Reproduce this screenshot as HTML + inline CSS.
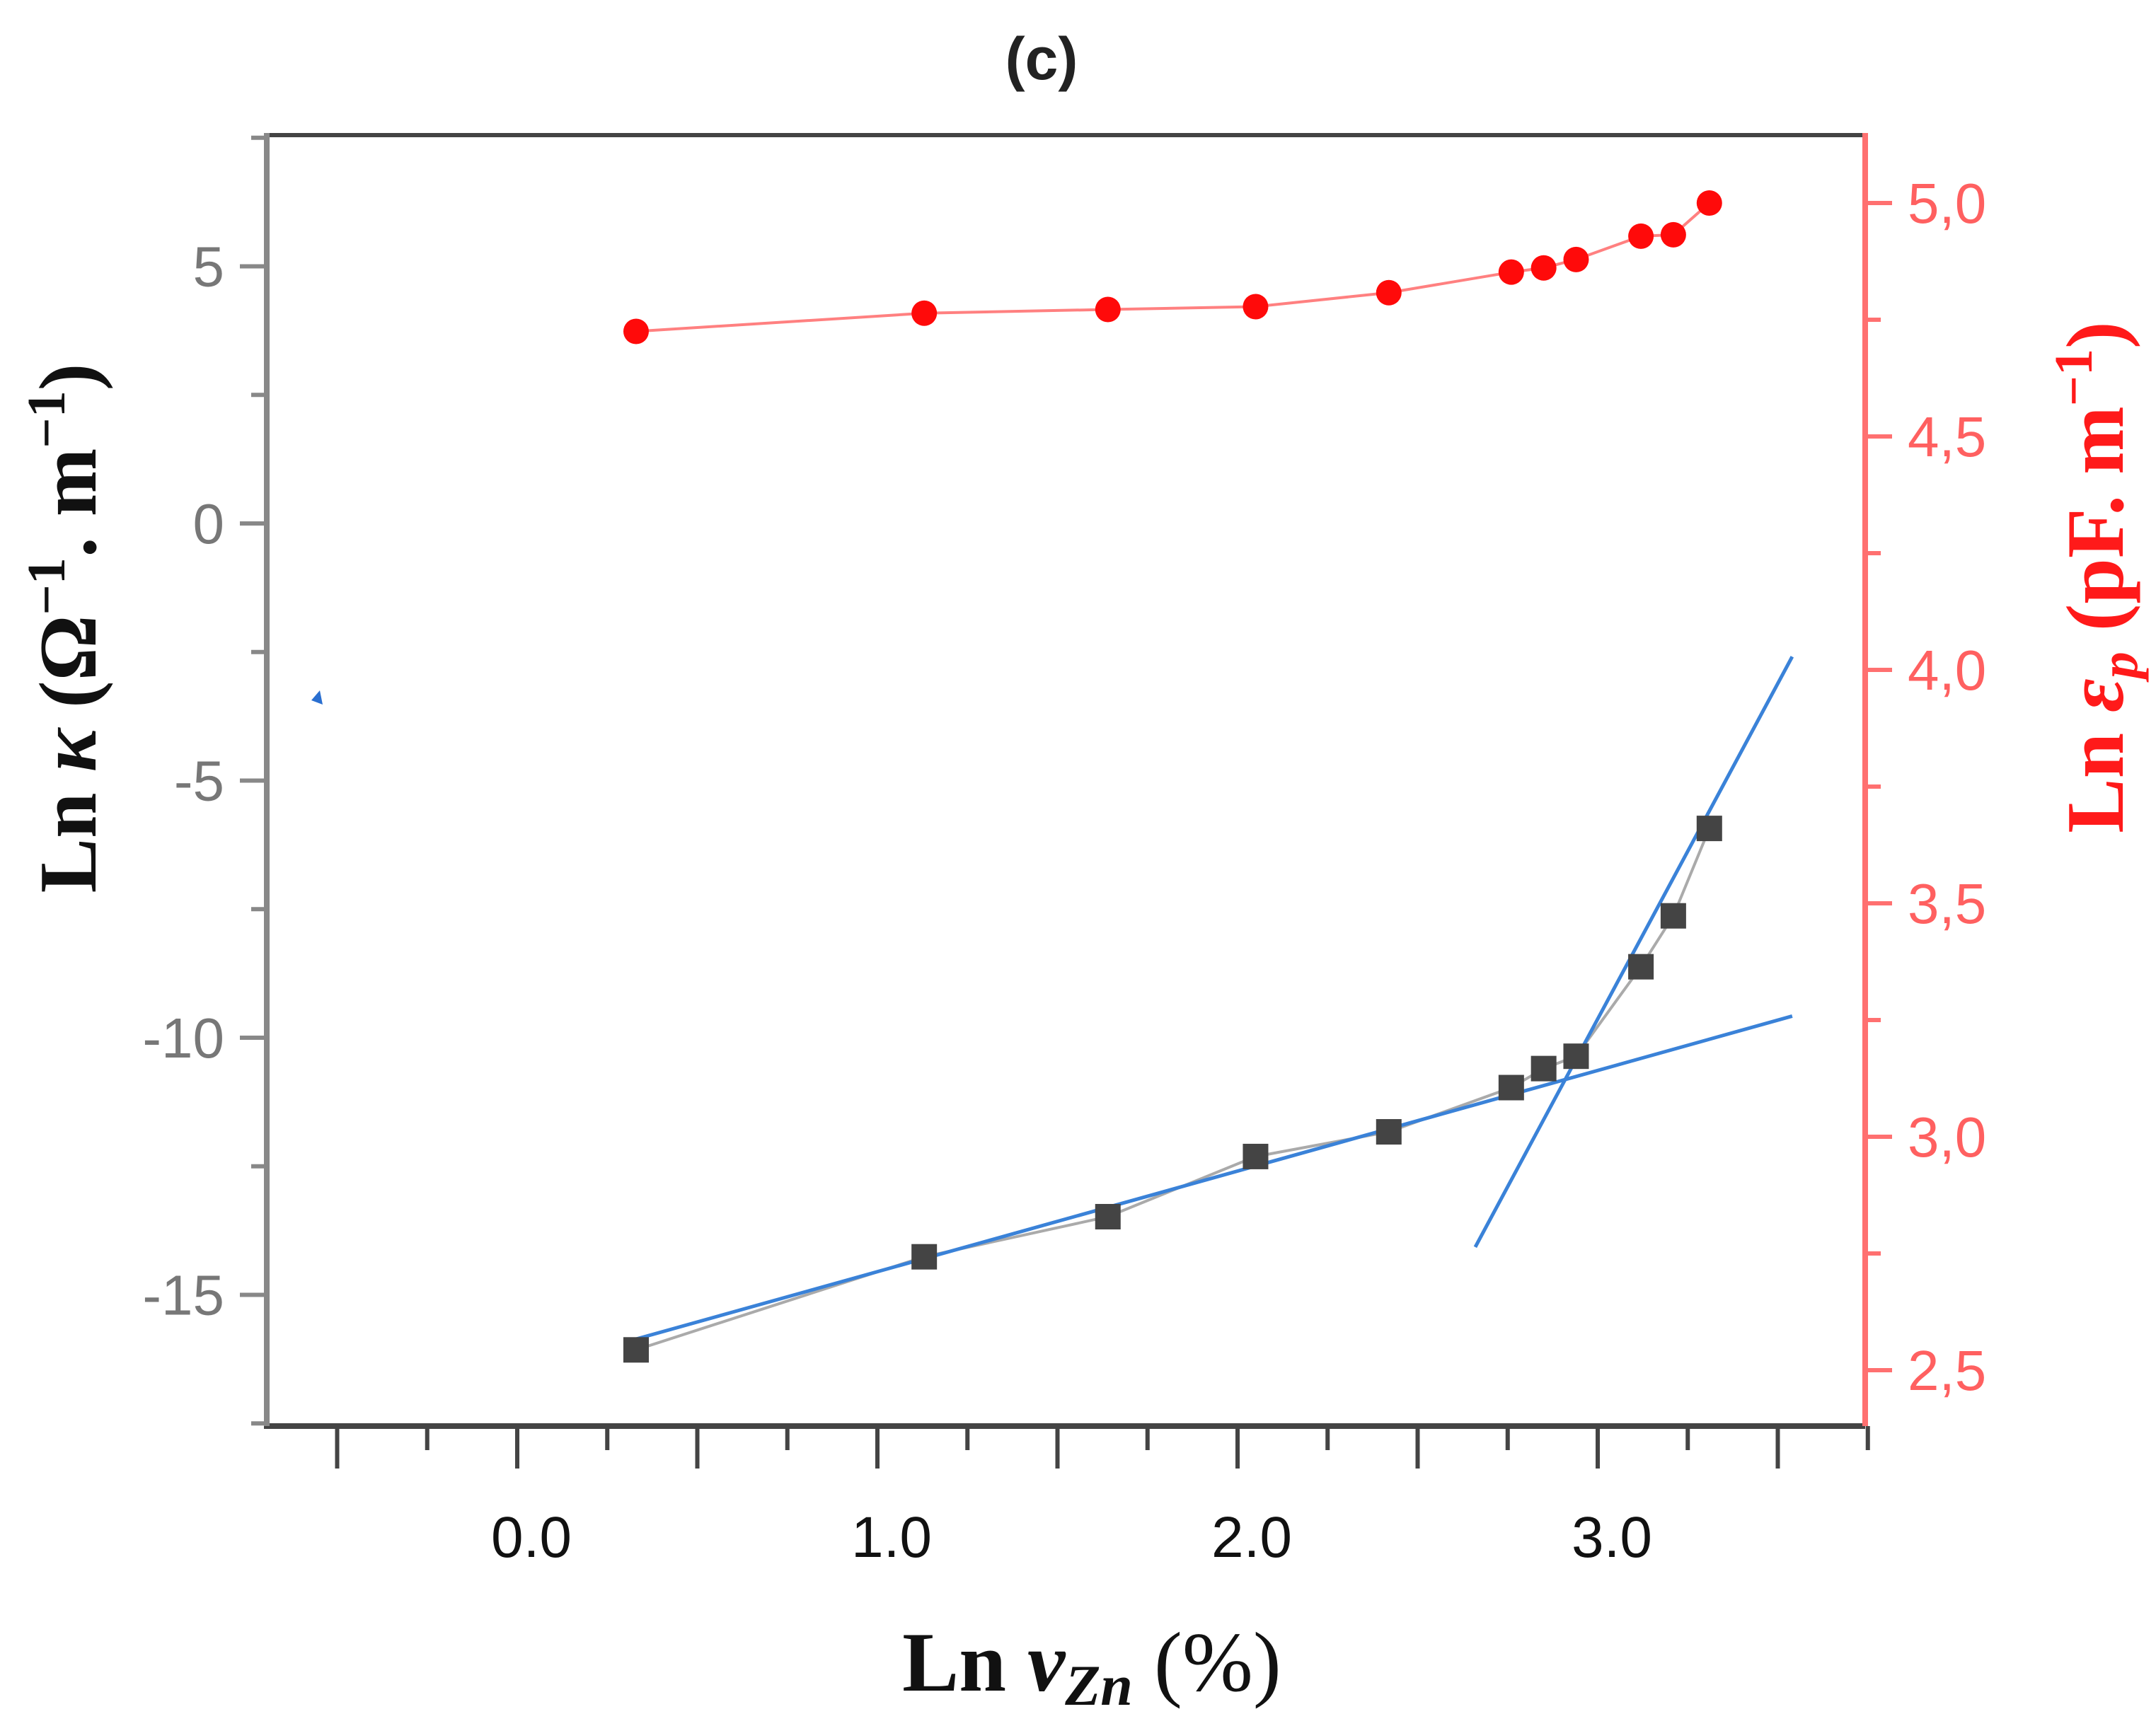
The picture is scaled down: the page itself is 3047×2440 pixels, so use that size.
<!DOCTYPE html>
<html><head><meta charset="utf-8"><style>
html,body{margin:0;padding:0;background:#fff;}
svg{display:block;}
</style></head><body>
<svg id="chart" width="3047" height="2440" viewBox="0 0 3047 2440" xmlns="http://www.w3.org/2000/svg">
<rect x="0" y="0" width="3047" height="2440" fill="#fff"/>
<text x="1472" y="112" font-family="Liberation Sans, sans-serif" font-weight="bold" font-size="84" text-anchor="middle" fill="#222">(c)</text>
<g id="axes"></g>
<g id="marks"></g>
<text x="1543" y="2390" font-family="Liberation Serif, serif" font-weight="bold" font-size="120" text-anchor="middle" fill="#111">Ln <tspan font-style="italic">v</tspan><tspan font-style="italic" font-size="82" dy="20">Zn</tspan><tspan dy="-20" font-weight="normal"> (%)</tspan></text>
<text transform="translate(135,888) rotate(-90)" font-family="Liberation Serif, serif" font-weight="bold" font-size="116" text-anchor="middle" fill="#111">Ln <tspan font-style="italic">κ</tspan> (Ω<tspan font-size="76" dy="-44">−1</tspan><tspan dy="44">. m</tspan><tspan font-size="76" dy="-44">−1</tspan><tspan dy="44">)</tspan></text>
<text transform="translate(3000,816) rotate(-90)" font-family="Liberation Serif, serif" font-weight="bold" font-size="116" text-anchor="middle" fill="#ff1a1a">Ln <tspan font-style="italic">ε</tspan><tspan font-style="italic" font-size="76" dy="20">p</tspan><tspan dy="-20"> (pF. m</tspan><tspan font-size="76" dy="-44">−1</tspan><tspan dy="44">)</tspan></text>
</svg>
<script>
// data
const kappaX = [0.33, 1.13, 1.64, 2.05, 2.42, 2.76, 2.85, 2.94, 3.12, 3.21, 3.31];
const kappaY = [-16.07, -14.26, -13.48, -12.31, -11.83, -10.97, -10.60, -10.36, -8.62, -7.63, -5.93];
const epsX = [0.33, 1.13, 1.64, 2.05, 2.42, 2.76, 2.85, 2.94, 3.12, 3.21, 3.31];
const epsY = [4.725, 4.764, 4.772, 4.778, 4.808, 4.852, 4.861, 4.879, 4.929, 4.932, 5.0];
const fit1X = [0.33, 3.54];
const fit1Y = [-15.86, -9.58];
const fit2X = [2.66, 3.54];
const fit2Y = [-14.07, -2.59];
const xTicksMajor = [-0.5, 0, 0.5, 1, 1.5, 2, 2.5, 3, 3.5];
const xTickLabels = ["0.0", "1.0", "2.0", "3.0"];
const xTickLabelVals = [0, 1, 2, 3];
const yLeftTicks = [5, 0, -5, -10, -15];
const yLeftLabels = ["5", "0", "-5", "-10", "-15"];
const yRightTicks = [5.0, 4.5, 4.0, 3.5, 3.0, 2.5];
const yRightLabels = ["5,0", "4,5", "4,0", "3,5", "3,0", "2,5"];

const L = 377, R = 2636, T = 191, B = 2016;
const sx = v => 731 + v * 509;
const syL = v => 740 - v * 72.7;
const syR = v => 287 - (v - 5.0) * 660;
const NS = "http://www.w3.org/2000/svg";
function mk(tag, attrs, parent) {
  const e = document.createElementNS(NS, tag);
  for (const k in attrs) e.setAttribute(k, attrs[k]);
  parent.appendChild(e);
  return e;
}
const ax = document.getElementById('axes');
const mg = document.getElementById('marks');

let e;
e = mk('line', {x1: L, y1: T, x2: R, y2: T, stroke: '#444', 'stroke-width': 6}, ax);


e = mk('line', {x1: L - 4, y1: B, x2: R, y2: B, stroke: '#444', 'stroke-width': 8}, ax);


e = mk('line', {x1: L, y1: T - 3, x2: L, y2: B, stroke: '#888', 'stroke-width': 8}, ax);


e = mk('line', {x1: R, y1: T - 3, x2: R, y2: B, stroke: '#ff7070', 'stroke-width': 8}, ax);



xTicksMajor.forEach(v => {
  const t = mk('line', {x1: sx(v), y1: B, x2: sx(v), y2: B + 60, stroke: '#444', 'stroke-width': 6}, ax);
  
  
  const m = mk('line', {x1: sx(v + 0.25), y1: B, x2: sx(v + 0.25), y2: B + 34, stroke: '#444', 'stroke-width': 6}, ax);
  
  
});
xTickLabelVals.forEach((v, i) => {
  const t = mk('text', {x: sx(v) + 20, y: B + 185, 'font-family': 'Liberation Sans, sans-serif', 'font-size': 82, 'text-anchor': 'middle', fill: '#111'}, ax);
  t.textContent = xTickLabels[i];
  
  
});
yLeftTicks.forEach((v, i) => {
  const t = mk('line', {x1: L - 38, y1: syL(v), x2: L, y2: syL(v), stroke: '#888', 'stroke-width': 6}, ax);
  
  
  const m = mk('line', {x1: L - 22, y1: syL(v + 2.5), x2: L, y2: syL(v + 2.5), stroke: '#888', 'stroke-width': 6}, ax);
  
  
  const l = mk('text', {x: L - 60, y: syL(v) + 28, 'font-family': 'Liberation Sans, sans-serif', 'font-size': 80, 'text-anchor': 'end', fill: '#777'}, ax);
  l.textContent = yLeftLabels[i];
  
  
});
e = mk('line', {x1: L - 22, y1: syL(-17.5), x2: L, y2: syL(-17.5), stroke: '#888', 'stroke-width': 6}, ax);


yRightTicks.forEach((v, i) => {
  const t = mk('line', {x1: R, y1: syR(v), x2: R + 38, y2: syR(v), stroke: '#ff7070', 'stroke-width': 6}, ax);
  
  
  if (v > 2.5) {
    const m = mk('line', {x1: R, y1: syR(v - 0.25), x2: R + 22, y2: syR(v - 0.25), stroke: '#ff7070', 'stroke-width': 6}, ax);
    
    
  }
  const l = mk('text', {x: R + 60, y: syR(v) + 28, 'font-family': 'Liberation Sans, sans-serif', 'font-size': 80, fill: '#ff6060'}, ax);
  l.textContent = yRightLabels[i];
  
  
});

e = mk('polyline', {points: kappaX.map((x, i) => sx(x) + ',' + syL(kappaY[i])).join(' '), fill: 'none', stroke: '#aaa', 'stroke-width': 4}, mg);


e = mk('line', {x1: sx(fit1X[0]), y1: syL(fit1Y[0]), x2: sx(fit1X[1]), y2: syL(fit1Y[1]), stroke: '#3a82d8', 'stroke-width': 5}, mg);


e = mk('line', {x1: sx(fit2X[0]), y1: syL(fit2Y[0]), x2: sx(fit2X[1]), y2: syL(fit2Y[1]), stroke: '#3a82d8', 'stroke-width': 5}, mg);


kappaX.forEach((x, i) => {
  const s = mk('rect', {x: sx(x) - 18, y: syL(kappaY[i]) - 18, width: 36, height: 36, fill: '#444'}, mg);
  
  
});
e = mk('polyline', {points: epsX.map((x, i) => sx(x) + ',' + syR(epsY[i])).join(' '), fill: 'none', stroke: '#ff8080', 'stroke-width': 4}, mg);


epsX.forEach((x, i) => {
  const c = mk('circle', {cx: sx(x), cy: syR(epsY[i]), r: 18, fill: '#ff0a0a'}, mg);
  
  
});
e = mk('polygon', {points: '440,990 452,976 456,996', fill: '#2a6fd0'}, mg);


</script>
</body></html>
